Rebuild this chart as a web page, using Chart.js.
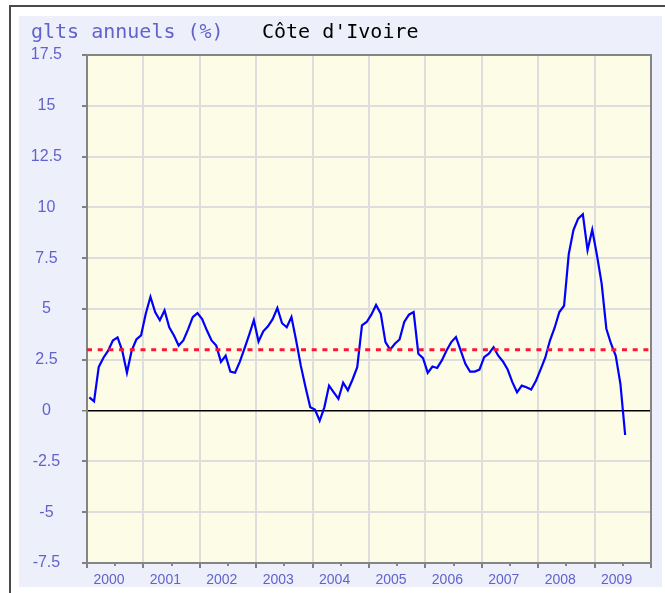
<!DOCTYPE html>
<html lang="fr">
<head>
  <meta charset="UTF-8">
  <title>Côte d'Ivoire - glissement annuel</title>
  <script src="https://cdn.jsdelivr.net/npm/chart.js"></script>
  <style>
    body { margin: 0; background: #fff; }
    canvas { display: block; }
  </style>
</head>
<body>
  <canvas id="inflationChart" width="665" height="593"></canvas>

  <script>
    // Year labels on the x axis (one label per year band)
    var years = ['2000', '2001', '2002', '2003', '2004', '2005', '2006', '2007', '2008', '2009'];
    var firstYear = 2000;

    // Monthly year-on-year rate (%), Jan 2000 .. Jul 2009
    var rates2000 = [0.65, 0.45, 2.15, 2.6, 2.95, 3.45, 3.6, 2.95, 1.86, 2.95, 3.5, 3.7];
    var rates2001 = [4.77, 5.6, 4.85, 4.45, 4.93, 4.1, 3.7, 3.2, 3.45, 4.0, 4.6, 4.8];
    var rates2002 = [4.5, 3.95, 3.45, 3.2, 2.4, 2.7, 1.92, 1.86, 2.4, 3.05, 3.73, 4.45];
    var rates2003 = [3.4, 3.9, 4.15, 4.5, 5.05, 4.3, 4.1, 4.6, 3.45, 2.2, 1.15, 0.16];
    var rates2004 = [0.05, -0.5, 0.16, 1.23, 0.9, 0.58, 1.37, 1.0, 1.53, 2.14, 4.2, 4.36];
    var rates2005 = [4.72, 5.2, 4.77, 3.37, 3.0, 3.29, 3.5, 4.36, 4.72, 4.85, 2.8, 2.58];
    var rates2006 = [1.86, 2.17, 2.1, 2.47, 2.96, 3.37, 3.62, 2.96, 2.3, 1.92, 1.92, 2.02];
    var rates2007 = [2.63, 2.8, 3.12, 2.7, 2.42, 2.02, 1.4, 0.9, 1.23, 1.15, 1.04, 1.45];
    var rates2008 = [2.02, 2.6, 3.45, 4.08, 4.85, 5.16, 7.7, 8.88, 9.45, 9.66, 7.9, 8.9];
    var rates2009 = [7.65, 6.25, 4.03, 3.29, 2.7, 1.3, -1.2];

    // Community convergence ceiling (%)
    var targetRate = 3;

    var monthlyRates = [].concat(rates2000, rates2001, rates2002, rates2003, rates2004,
                                 rates2005, rates2006, rates2007, rates2008, rates2009);

    // each value sits in the middle of its month
    var ratePoints = monthlyRates.map(function(v, i) {
      return { x: firstYear + (i + 0.5) / 12, y: v };
    });
    var lastYear = firstYear + years.length;
    var targetPoints = [{ x: firstYear, y: targetRate }, { x: lastYear, y: targetRate }];

    var labelBlue = '#6262cc';

    // panel, frame and title behind the chart
    var framePlugin = {
      id: 'frame',
      beforeDraw: function(chart) {
        var ctx = chart.ctx, a = chart.chartArea;
        ctx.save();
        ctx.fillStyle = '#ffffff';
        ctx.fillRect(0, 0, chart.width, chart.height);
        ctx.fillStyle = '#4a4a4a';
        ctx.fillRect(9, 5, 2, chart.height - 5);
        ctx.fillRect(9, 5, chart.width - 9, 2);
        ctx.fillStyle = '#edf0fb';
        ctx.fillRect(19, 16, 643, 571);
        ctx.fillStyle = '#fdfce6';
        ctx.fillRect(a.left, a.top, a.right - a.left, a.bottom - a.top);

        ctx.font = '20px "DejaVu Sans Mono", monospace';
        ctx.textBaseline = 'alphabetic';
        ctx.fillStyle = labelBlue;
        ctx.fillText('glts annuels (%)', 31, 38);
        ctx.fillStyle = '#000000';
        ctx.fillText("Côte d'Ivoire", 262, 38);
        ctx.restore();
      },
      beforeDatasetsDraw: function(chart) {
        var ctx = chart.ctx, a = chart.chartArea, xs = chart.scales.x;
        ctx.save();
        ctx.strokeStyle = '#858585';
        ctx.lineWidth = 2;
        ctx.strokeRect(a.left, a.top, a.right - a.left, a.bottom - a.top);
        // half-year minor ticks under the x axis
        ctx.beginPath();
        for (var y = firstYear; y < lastYear; y++) {
          var px = Math.round(xs.getPixelForValue(y + 0.5));
          ctx.moveTo(px, a.bottom);
          ctx.lineTo(px, a.bottom + 3);
        }
        ctx.stroke();
        ctx.restore();
      }
    };

    var ctx = document.getElementById('inflationChart').getContext('2d');
    var inflationChart = new Chart(ctx, {
      type: 'line',
      data: {
        datasets: [{
          label: 'Seuil',
          data: targetPoints,
          borderColor: '#ff1438',
          borderWidth: 3,
          borderDash: [5, 5.7],
          pointRadius: 0
        }, {
          label: 'glts annuels (%)',
          data: ratePoints,
          borderColor: '#0000ff',
          borderWidth: 2.2,
          pointRadius: 0,
          tension: 0
        }]
      },
      options: {
        responsive: false,
        animation: false,
        layout: { padding: { left: 0, top: 55, right: 14, bottom: 0 } },
        plugins: {
          legend: { display: false },
          tooltip: { enabled: false }
        },
        scales: {
          x: {
            type: 'linear',
            min: firstYear,
            max: lastYear,
            afterBuildTicks: function(scale) {
              var t = [];
              for (var y = firstYear; y <= lastYear; y++) t.push({ value: y });
              scale.ticks = t;
            },
            afterFit: function(scale) { scale.height = 30; },
            ticks: {
              autoSkip: false,
              maxRotation: 0,
              labelOffset: 22,
              padding: 4,
              color: labelBlue,
              font: { family: 'Liberation Sans', size: 14 },
              callback: function(v) {
                var i = v - firstYear;
                return i < years.length ? years[i] : '';
              }
            },
            grid: { color: '#dedede', lineWidth: 2, tickLength: 5, tickColor: '#808080' },
            border: { color: '#858585', width: 2 }
          },
          y: {
            min: -7.5,
            max: 17.5,
            afterFit: function(scale) { scale.width = 87; },
            ticks: {
              stepSize: 2.5,
              crossAlign: 'center',
              padding: 20,
              color: labelBlue,
              font: { family: 'Liberation Sans', size: 16 },
              callback: function(v) { return String(v); }
            },
            grid: {
              color: function(c) { return c.tick && c.tick.value === 0 ? '#000000' : '#dedede'; },
              lineWidth: function(c) { return c.tick && c.tick.value === 0 ? 1.5 : 2; },
              tickLength: 5,
              tickColor: '#808080'
            },
            border: { color: '#858585', width: 2 }
          }
        }
      },
      plugins: [framePlugin]
    });
  </script>
</body>
</html>
